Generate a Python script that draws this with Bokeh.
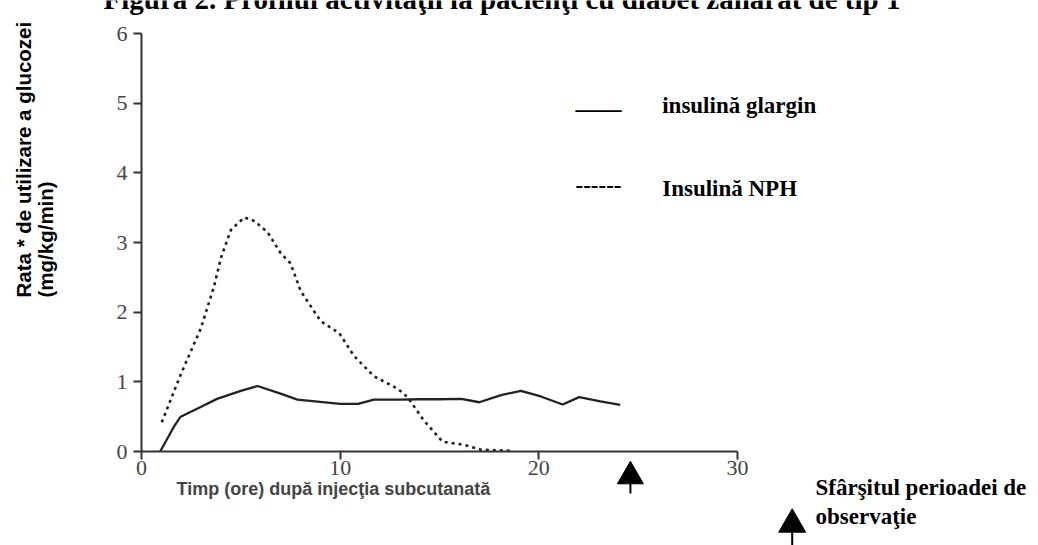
import math
from bokeh.plotting import figure
from bokeh.models import Label, FixedTicker, LinearAxis
from bokeh.embed import file_html
from bokeh.resources import INLINE

# ---------------- data ----------------
glargin_t = [0.94, 1.31, 1.64, 1.97, 2.98, 3.8, 5.0, 5.84, 7.0, 7.85, 8.86, 10.0,
             10.9, 11.7, 13.05, 14.0, 15.0, 16.1, 17.0, 18.1, 19.1, 20.1, 21.2,
             22.03, 23.1, 24.1]
glargin_v = [0.0, 0.19, 0.36, 0.5, 0.64, 0.755, 0.87, 0.94, 0.83, 0.745, 0.717,
             0.685, 0.685, 0.745, 0.745, 0.75, 0.75, 0.755, 0.707, 0.81, 0.87,
             0.79, 0.675, 0.78, 0.72, 0.67]

nph_t = [1.02, 1.98, 2.99, 3.66, 4.0, 4.5, 5.17, 5.67, 6.34, 7.0, 7.5, 8.02,
         9.02, 9.95, 10.7, 11.7, 12.9, 13.4, 14.2, 15.16, 16.25, 17.1, 18.6]
nph_v = [0.42, 1.11, 1.77, 2.38, 2.78, 3.18, 3.36, 3.31, 3.15, 2.85, 2.7, 2.3,
         1.87, 1.70, 1.37, 1.08, 0.9, 0.78, 0.45, 0.14, 0.095, 0.025, 0.01]

x_ticks = [0, 10, 20, 30]
y_ticks = [0, 1, 2, 3, 4, 5, 6]
x_bounds = (0, 30)
y_bounds = (0, 6)
end_of_observation = 24.61   # hours

title_text = "Figura 2. Profilul activităţii la pacienţi cu diabet zaharat de tip 1"
ylabel_1 = "Rata * de utilizare a glucozei"
ylabel_2 = "(mg/kg/min)"
xlabel = "Timp (ore) după injecţia subcutanată"
legend_glargin = "insulină glargin"
legend_nph = "Insulină NPH"
legend_solid = "____"
legend_dashed = "------"
note_1 = "Sfârşitul perioadei de"
note_2 = "observaţie"

SERIF = "Liberation Serif"
SANS = "Liberation Sans"

# ---------------- layout (pixel geometry of the axes box) ----------------
W, H = 1038, 545
X0_PX, Y0_PX = 141.0, 451.0          # where (0, 0) sits
PX_PER_X = 596.0 / 30.0
PX_PER_Y = 418.0 / 6.0

def X(px):
    return (px - X0_PX) / PX_PER_X

def Y(py):
    return (Y0_PX - py) / PX_PER_Y

p = figure(width=W, height=H, x_range=(X(0), X(W)), y_range=(Y(H), Y(0)),
           output_backend="svg", toolbar_location=None,
           x_axis_type=None, y_axis_type=None, min_border=0)
p.xgrid.visible = False
p.ygrid.visible = False
p.outline_line_color = None
p.background_fill_color = "white"
p.border_fill_color = "white"

xaxis = LinearAxis(fixed_location=0, bounds=x_bounds, ticker=FixedTicker(ticks=x_ticks))
yaxis = LinearAxis(fixed_location=0, bounds=y_bounds, ticker=FixedTicker(ticks=y_ticks))
for ax in (xaxis, yaxis):
    ax.axis_line_width = 2
    ax.axis_line_color = "#333333"
    ax.major_tick_line_width = 2
    ax.major_tick_line_color = "#333333"
    ax.major_tick_out = 8
    ax.major_tick_in = 0
    ax.minor_tick_line_color = None
    ax.major_label_text_font = SERIF
    ax.major_label_text_font_size = "22px"
    ax.major_label_text_color = "#444444"
xaxis.major_label_standoff = 1
yaxis.major_label_standoff = 6
p.add_layout(xaxis, "below")
p.add_layout(yaxis, "left")

# series
p.line(glargin_t, glargin_v, line_color="#222222", line_width=2.3)
p.line(nph_t, nph_v, line_color="#222222", line_width=2.6, line_dash="3 4")

# end-of-observation markers
p.scatter([end_of_observation], [Y(475.8)], marker="triangle", size=26,
          fill_color="black", line_color="black")
p.segment([end_of_observation], [Y(482)], [end_of_observation], [Y(493)],
          line_color="black", line_width=2)
p.scatter([X(791.7)], [Y(523.9)], marker="triangle", size=27,
          fill_color="black", line_color="black")
p.segment([X(791.7)], [Y(530)], [X(791.7)], [Y(548)],
          line_color="black", line_width=2)

def lab(px, base_py, text, font=SERIF, size=23, style="bold", angle=0.0,
        color="black"):
    # base_py: pixel row of the text baseline; placed via the em-box middle
    mid = base_py - 0.3375 * size
    p.add_layout(Label(x=X(px), y=Y(mid), text=text, text_font=font,
                       text_font_size=f"{size}px", text_font_style=style,
                       text_align="left", text_baseline="middle",
                       angle=angle, text_color=color))

def vlab(cx, start_py, text, size=20.5):
    p.add_layout(Label(x=X(cx), y=Y(start_py), text=text, text_font=SANS,
                       text_font_size=f"{size}px", text_font_style="bold",
                       text_align="left", text_baseline="middle",
                       angle=math.pi / 2, text_color="black"))

# title (cut at the top in the reference)
lab(103, 8, title_text, size=29)
# axis labels
vlab(23, 297, ylabel_1)
vlab(45, 297, ylabel_2)
p.add_layout(Label(x=X(176), y=Y(488), text=xlabel, text_font=SANS,
                   text_font_size="18px", text_font_style="bold",
                   text_align="left", text_baseline="middle"))
# legend
lab(575, 109, legend_solid)
lab(661.7, 113, legend_glargin)
lab(575, 193, legend_dashed)
lab(661.7, 196, legend_nph)
# note
lab(815, 495, note_1)
lab(815, 523.3, note_2)

open("out.html", "w").write(file_html(p, INLINE))
